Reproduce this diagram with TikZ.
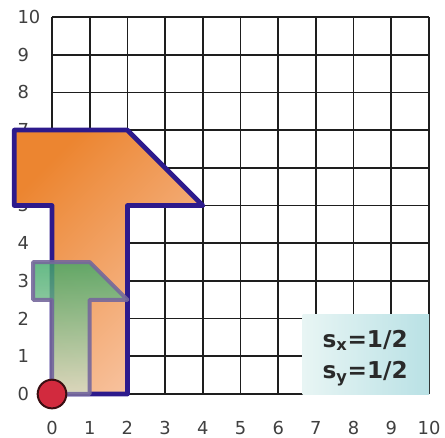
\documentclass[tikz,border=0pt]{standalone}
\usepackage{fontspec}
\setmainfont{DejaVu Sans}
\usetikzlibrary{shadings}
\definecolor{gridc}{HTML}{1E1E1E}
\definecolor{outl}{HTML}{2D1A8C}
\definecolor{orA}{HTML}{EC8530}
\definecolor{orB}{HTML}{F8C4A2}
\definecolor{grA}{HTML}{3FA968}
\definecolor{grB}{HTML}{D6DEC8}
\definecolor{gout}{HTML}{76689C}
\definecolor{dotc}{HTML}{D22A3E}
\definecolor{dotout}{HTML}{3A0E12}
\definecolor{bxA}{HTML}{E8F5F4}
\definecolor{bxB}{HTML}{B9E1E5}
\definecolor{txc}{HTML}{2A2A2A}
\tikzset{
  gridline/.style={draw=gridc, line width=1.3pt},
  ticklab/.style={font=\fontsize{13.5}{15}\selectfont, text=black!75, inner sep=0pt},
  bigshape/.style={draw=outl, line width=3.6pt, line join=round, left color=orA, right color=orB, shading angle=45},
  smallshape/.style={draw=gout, draw opacity=0.9, line width=3pt, line join=round, fill opacity=0.8, top color=grA, bottom color=grB},
  origindot/.style={circle, draw=dotout, line width=1.5pt, fill=dotc, minimum size=0.76cm, inner sep=0pt},
  infobox/.style={left color=bxA, right color=bxB},
  infotext/.style={font=\bfseries\fontsize{17.5}{20}\selectfont, text=txc, inner sep=0pt, anchor=base west}
}
\begin{document}
\begin{tikzpicture}
\useasboundingbox (-1.379,-1.141) rectangle (10.424,10.451);
% grid
\foreach \i in {0,...,10} {
  \draw[gridline] (\i,0) -- (\i,10);
  \draw[gridline] (0,\i) -- (10,\i);
}
% labels
\foreach \i in {0,...,10} {
  \node[ticklab, anchor=west] (yl\i) at (-0.92,\i) {\i};
  \node[ticklab] (xl\i) at (\i,-0.9) {\i};
}
% original shape
\path[bigshape] (-1,7) -- (2,7) -- (4,5) -- (2,5) -- (2,0) -- (0,0) -- (0,5) -- (-1,5) -- cycle;
% scaled shape
\path[smallshape] (-0.5,3.5) -- (1,3.5) -- (2,2.5) -- (1,2.5) -- (1,0) -- (0,0) -- (0,2.5) -- (-0.5,2.5) -- cycle;
% origin
\node[origindot] (origin) at (0,0) {};
% info box
\path[infobox] (6.65,0) rectangle (10,2.12);
\node[infotext] (sx) at (7.17,1.24) {s\textsubscript{x}=1/2};
\node[infotext] (sy) at (7.17,0.41) {s\textsubscript{y}=1/2};
\end{tikzpicture}
\end{document}
